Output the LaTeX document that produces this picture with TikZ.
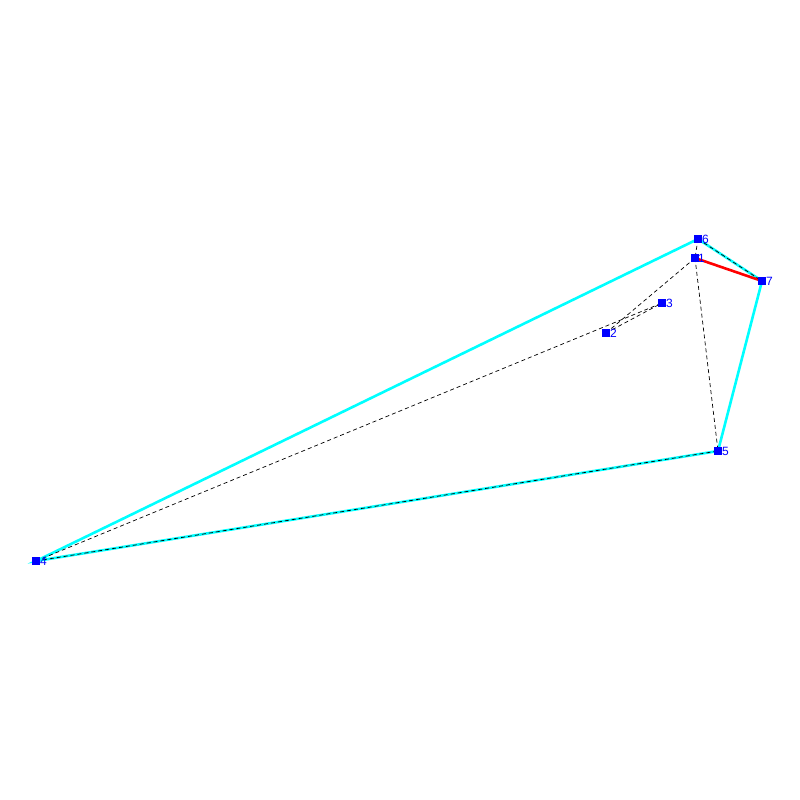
\documentclass[tikz,border=0pt]{standalone}
\usepackage{fontspec}
\setmainfont{Liberation Sans}
\definecolor{hullc}{RGB}{0,255,255}
\definecolor{ptc}{RGB}{0,0,255}
\definecolor{redc}{RGB}{255,0,0}
\begin{document}
\begin{tikzpicture}[x=1pt,y=-1pt,
  pt/.style={fill=ptc,minimum size=7.5pt,inner sep=0pt,draw=none},
  lbl/.style={text=ptc,font=\fontsize{12}{14}\selectfont,inner sep=0pt,anchor=west},
  hull/.style={hullc,line width=2.6pt},
  dsh/.style={black,line width=0.7pt,dash pattern=on 4pt off 3pt},
  redl/.style={redc,line width=2.6pt}]
\useasboundingbox (0,0) rectangle (800,800);
\coordinate (p1) at (695,258);
\coordinate (p2) at (606,333);
\coordinate (p3) at (662,303);
\coordinate (p4) at (36,561);
\coordinate (p5) at (718,451);
\coordinate (p6) at (698,239);
\coordinate (p7) at (762,281);
\draw[hull] (p6) -- (p4) -- (p5) -- (p7) -- (p6);
\draw[redl] (p1) -- (p7);
\draw[dsh] (p4) -- (p3);
\draw[dsh] (p2) -- (p3);
\draw[dsh] (p2) -- (p1);
\draw[dsh] (p1) -- (p5);
\draw[dsh] (p6) -- (p1);
\draw[dsh] (p6) -- (p7);
\draw[dsh] (p4) -- (p5);
\foreach \i in {1,...,7} {
  \node[pt] (n\i) at (p\i) {};
}
\node[lbl] (l1) at (698,258) {1};
\node[lbl] (l2) at (610,333) {2};
\node[lbl] (l3) at (666,303) {3};
\node[lbl] (l4) at (40,561) {4};
\node[lbl] (l5) at (722,451) {5};
\node[lbl] (l6) at (702,239) {6};
\node[lbl] (l7) at (766,281) {7};
\end{tikzpicture}
\end{document}
